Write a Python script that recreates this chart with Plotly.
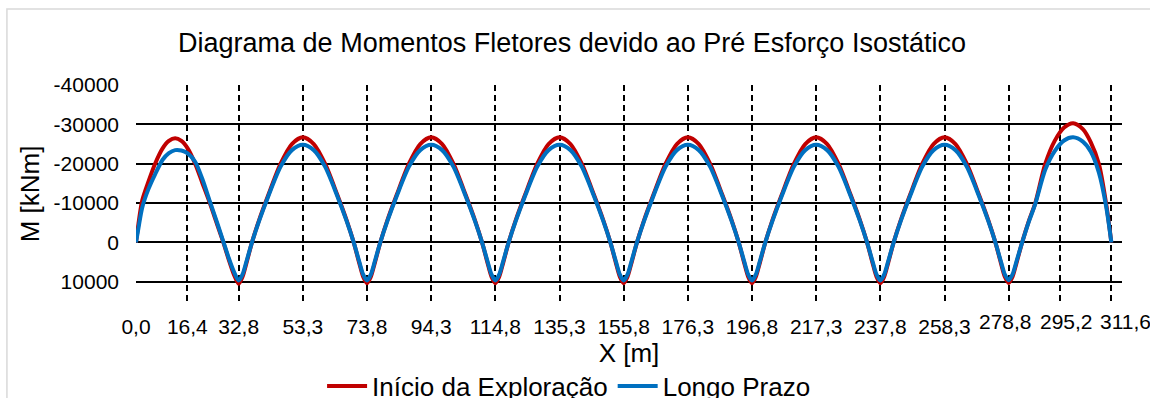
import plotly.graph_objects as go

# ---- data ----
x_span1 = [0, 0.8, 2.0, 4.0, 6.1, 8.5, 10.5, 12.5, 14.5, 16.5, 18.9, 21.2, 23.6, 26.0, 27.9, 29.6, 31.2]
x_span2 = [32.8, 34.0, 35.3, 37.05, 39.3, 42.3, 46.2, 49.8, 53.3, 56.8, 60.4, 64.3, 67.3, 69.55, 71.3, 72.6]
x_span3 = [73.8, 75.0, 76.3, 78.05, 80.3, 83.3, 87.2, 90.8, 94.3, 97.8, 101.4, 105.3, 108.3, 110.55, 112.3, 113.6]
x_span4 = [114.8, 116.0, 117.3, 119.05, 121.3, 124.3, 128.2, 131.8, 135.3, 138.8, 142.4, 146.3, 149.3, 151.55, 153.3, 154.6]
x_span5 = [155.8, 157.0, 158.3, 160.05, 162.3, 165.3, 169.2, 172.8, 176.3, 179.8, 183.4, 187.3, 190.3, 192.55, 194.3, 195.6]
x_span6 = [196.8, 198.0, 199.3, 201.05, 203.3, 206.3, 210.2, 213.8, 217.3, 220.8, 224.4, 228.3, 231.3, 233.55, 235.3, 236.6]
x_span7 = [237.8, 239.0, 240.3, 242.05, 244.3, 247.3, 251.2, 254.8, 258.3, 261.8, 265.4, 269.3, 272.3, 274.55, 276.3, 277.6]
x_span8 = [278.8, 280.0, 281.3, 283.1, 285.3, 287.3, 290.5, 293.5, 296.5, 299.4, 302.5, 305.0, 307.6, 309.9, 311.6]

m_inicio_1 = [0, -4800, -10700, -15500, -20000, -23900, -25800, -26460, -25800, -23900, -20000, -15100, -10000, -4400, 0, 4300, 8000]
m_inicio_2 = [10500, 8800, 5200, 0, -5600, -12100, -20000, -25000, -26700, -25000, -20000, -12100, -5600, 0, 5200, 8800]
m_inicio_3 = [10400, 8800, 5200, 0, -5600, -12100, -20000, -25000, -26700, -25000, -20000, -12100, -5600, 0, 5200, 8800]
m_inicio_4 = [10400, 8800, 5200, 0, -5600, -12100, -20000, -25000, -26700, -25000, -20000, -12100, -5600, 0, 5200, 8800]
m_inicio_5 = [10400, 8800, 5200, 0, -5600, -12100, -20000, -25000, -26700, -25000, -20000, -12100, -5600, 0, 5200, 8800]
m_inicio_6 = [10400, 8800, 5200, 0, -5600, -12100, -20000, -25000, -26700, -25000, -20000, -12100, -5600, 0, 5200, 8800]
m_inicio_7 = [10400, 8800, 5200, 0, -5600, -12100, -20000, -25000, -26700, -25000, -20000, -12100, -5600, 0, 5200, 8800]
m_inicio_8 = [10300, 8800, 5200, 0, -5600, -10000, -20000, -25800, -29200, -30300, -28800, -25500, -20000, -10000, 0]

m_longo_1 = [0, -3700, -8900, -13600, -17300, -21000, -22700, -23450, -23350, -22600, -20500, -16100, -10400, -4800, -200, 3900, 7300]
m_longo_2 = [9700, 8200, 4800, 0, -5400, -11800, -19250, -23450, -24800, -23450, -19250, -11800, -5400, 0, 4800, 8200]
m_longo_3 = [9700, 8200, 4800, 0, -5400, -11800, -19250, -23450, -24800, -23450, -19250, -11800, -5400, 0, 4800, 8200]
m_longo_4 = [9700, 8200, 4800, 0, -5400, -11800, -19250, -23450, -24800, -23450, -19250, -11800, -5400, 0, 4800, 8200]
m_longo_5 = [9700, 8200, 4800, 0, -5400, -11800, -19250, -23450, -24800, -23450, -19250, -11800, -5400, 0, 4800, 8200]
m_longo_6 = [9700, 8200, 4800, 0, -5400, -11800, -19250, -23450, -24800, -23450, -19250, -11800, -5400, 0, 4800, 8200]
m_longo_7 = [9700, 8200, 4800, 0, -5400, -11800, -19250, -23450, -24800, -23450, -19250, -11800, -5400, 0, 4800, 8200]
m_longo_8 = [9600, 8200, 4800, 0, -5400, -9800, -18500, -23200, -25900, -26700, -25600, -23100, -17800, -9300, 0]

x_ticks = [0, 16.4, 32.8, 53.3, 73.8, 94.3, 114.8, 135.3, 155.8, 176.3, 196.8,
           217.3, 237.8, 258.3, 278.8, 295.2, 311.6]
x_tick_labels = ["0,0", "16,4", "32,8", "53,3", "73,8", "94,3", "114,8", "135,3", "155,8",
                 "176,3", "196,8", "217,3", "237,8", "258,3", "278,8", "295,2", "311,6"]
# the last three labels sit slightly higher / shifted in the reference
x_raised = ["278,8", "295,2", "311,6"]
x_raised_shift = [-3, 6, 14]

y_ticks = [-40000, -30000, -20000, -10000, 0, 10000]
y_tick_labels = ["-40000", "-30000", "-20000", "-10000", "0", "10000"]

series_names = ["Início da Exploração", "Longo Prazo"]
series_colors = ["#C00000", "#0070C0"]

x_all = x_span1 + x_span2 + x_span3 + x_span4 + x_span5 + x_span6 + x_span7 + x_span8
m_inicio = m_inicio_1 + m_inicio_2 + m_inicio_3 + m_inicio_4 + m_inicio_5 + m_inicio_6 + m_inicio_7 + m_inicio_8
m_longo = m_longo_1 + m_longo_2 + m_longo_3 + m_longo_4 + m_longo_5 + m_longo_6 + m_longo_7 + m_longo_8

FONT = "Liberation Sans, Arial, sans-serif"

fig = go.Figure()
for name, ys, col in zip(series_names, [m_inicio, m_longo], series_colors):
    fig.add_trace(go.Scatter(x=x_all, y=ys, mode="lines", name=name,
                             line=dict(color=col, width=4, shape="spline", smoothing=0.8)))

# chart-area border (light gray), partially outside the window like the reference
fig.add_shape(type="rect", xref="paper", yref="paper",
              x0=-0.1309, x1=1.05, y0=-0.52, y1=1.3486,
              line=dict(color="#D9D9D9", width=1.5), fillcolor="rgba(0,0,0,0)", layer="below")

tick_text_shown = [("" if t in x_raised else t) for t in x_tick_labels]
for val, txt in zip(x_ticks, x_tick_labels):
    if txt in x_raised:
        fig.add_annotation(x=val, xref="x", y=0, yref="paper", text=txt, showarrow=False,
                           xanchor="center", yanchor="middle",
                           xshift=x_raised_shift[x_raised.index(txt)], yshift=-18,
                           font=dict(size=21, family=FONT, color="black"))

fig.update_layout(
    width=1150, height=398,
    autosize=False,
    margin=dict(l=136, r=28, t=85, b=95, autoexpand=False),
    paper_bgcolor="white", plot_bgcolor="white",
    font=dict(family=FONT, color="black", size=21),
    title=dict(text="Diagrama de Momentos Fletores devido ao Pré Esforço Isostático",
               x=572 / 1150, xanchor="center", y=1 - 43 / 398, yanchor="middle",
               font=dict(size=27, family=FONT, color="black")),
    showlegend=True,
    legend=dict(orientation="h", x=(322 - 136) / 985.6, xanchor="left",
                y=-(386 - 303) / 218, yanchor="middle",
                font=dict(size=26, family=FONT, color="black"),
                bgcolor="rgba(0,0,0,0)", itemwidth=40),
)

fig.update_xaxes(range=[0, 315], tickmode="array", tickvals=x_ticks, ticktext=tick_text_shown,
                 tickangle=0, automargin=False, ticklabeloverflow="allow",
                 showgrid=True, gridcolor="black", gridwidth=2, griddash="6px,4px",
                 zeroline=False, showline=False, ticks="", ticklabelstandoff=9,
                 tickfont=dict(size=21, family=FONT, color="black"),
                 title=dict(text="X [m]", font=dict(size=26, family=FONT, color="black"), standoff=4))

fig.update_yaxes(range=[15400, -40000], tickmode="array", tickvals=y_ticks, ticktext=y_tick_labels,
                 automargin=False,
                 showgrid=True, gridcolor="black", gridwidth=1.5,
                 zeroline=False, showline=False, ticks="", ticklabelstandoff=16,
                 tickfont=dict(size=21, family=FONT, color="black"),
                 title=dict(text="M [kNm]", font=dict(size=26, family=FONT, color="black"), standoff=6))

fig.write_html("out.html")
